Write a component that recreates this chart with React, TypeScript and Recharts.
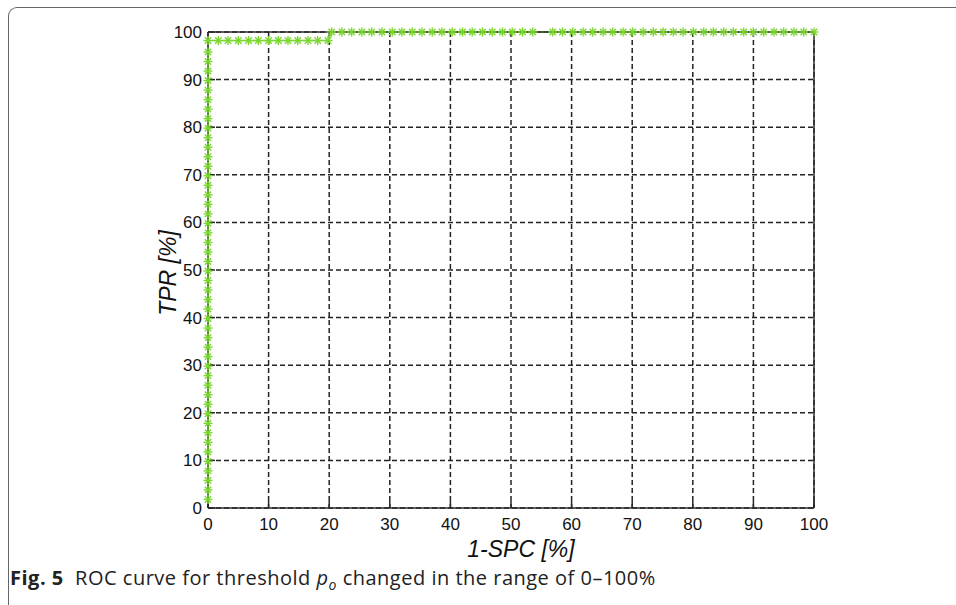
import React from "react"
import { ComposedChart, Line, XAxis, YAxis, CartesianGrid, Label } from "recharts"

// ROC points (FPR = 1-SPC, TPR, both in %)
const leftEdgeFpr = 0
const leftEdgeTpr = [
  1.8, 3.8, 5.8, 7.8, 9.8, 11.8, 13.8, 15.8, 17.8, 19.8, 21.8, 23.8, 25.8, 27.8, 29.8, 31.8,
  33.8, 35.8, 37.8, 39.8, 41.8, 43.8, 45.8, 47.8, 49.8, 51.8, 53.8, 55.8, 57.8, 59.8, 61.8,
  63.8, 65.8, 67.8, 69.8, 71.8, 73.8, 75.8, 77.8, 79.8, 81.8, 83.8, 85.8, 87.8, 89.8, 91.8,
  93.8, 95.8,
]
const lowerRowTpr = 98.2
const lowerRowFpr = [0, 1.7, 3.3, 5.0, 6.7, 8.3, 10.0, 11.6, 13.2, 14.8, 16.5, 18.1, 19.8]
const upperRowTpr = 100
const upperRowFpr = [
  20.4, 22.1, 23.7, 25.4, 27.0, 28.7, 30.4, 32.0, 33.7, 35.3, 37.0, 38.6, 40.3, 42.0, 43.6,
  45.3, 46.9, 48.6, 50.2, 51.9, 53.6, 56.9, 58.5, 60.2, 61.9, 63.5, 65.2, 66.8, 68.5, 70.1,
  71.8, 73.5, 75.1, 76.8, 78.4, 80.1, 81.8, 83.4, 85.1, 86.7, 88.4, 90.0, 91.7, 93.4, 95.0,
  96.7, 98.3, 100,
]
const ticks = [0, 10, 20, 30, 40, 50, 60, 70, 80, 90, 100]

const data = [
  ...leftEdgeTpr.map((tpr) => ({ fpr: leftEdgeFpr, tpr })),
  ...lowerRowFpr.map((fpr) => ({ fpr, tpr: lowerRowTpr })),
  ...upperRowFpr.map((fpr) => ({ fpr, tpr: upperRowTpr })),
]

const green = "#7BD631"
const axisColor = "#2a2a2a"
const font = "'Liberation Sans', Arial, sans-serif"

// matlab style '*' marker
function Star(props: any) {
  const { cx, cy } = props
  if (cx == null || cy == null) return <g key={props.key} />
  const r = 4.5
  const d = 3.2
  return (
    <g key={props.key} stroke={green} strokeWidth={1.4}>
      <line x1={cx - r} y1={cy} x2={cx + r} y2={cy} />
      <line x1={cx} y1={cy - r} x2={cx} y2={cy + r} />
      <line x1={cx - d} y1={cy - d} x2={cx + d} y2={cy + d} />
      <line x1={cx - d} y1={cy + d} x2={cx + d} y2={cy - d} />
    </g>
  )
}

function YTitle(props: any) {
  const vb = props.viewBox || {}
  const x = vb.x + 28
  const y = vb.y + vb.height / 2 + 3
  return (
    <text
      x={x}
      y={y}
      transform={`rotate(-90, ${x}, ${y})`}
      textAnchor="middle"
      fill="#111"
      fontSize={23}
      fontStyle="italic"
      fontFamily={font}
    >
      TPR [%]
    </text>
  )
}

export default function App() {
  const tickStyle = { fill: "#111", fontSize: 17, fontFamily: font }
  return (
    <div style={{ position: "absolute", left: 0, top: 0, width: 956, height: 605, background: "#fff" }}>
      <div
        style={{
          position: "absolute",
          left: 8,
          top: 7,
          width: 960,
          height: 620,
          borderTop: "1.5px solid #666",
          borderLeft: "1.5px solid #666",
          borderTopLeftRadius: 9,
        }}
      />
      <ComposedChart
        width={956}
        height={605}
        data={data}
        margin={{ top: 31, right: 141, bottom: 37, left: 148 }}
        style={{ position: "absolute", left: 0, top: 0 }}
      >
        <CartesianGrid stroke="#222" strokeWidth={1.5} strokeDasharray="5 3" />
        <XAxis
          dataKey="fpr"
          type="number"
          domain={[0, 100]}
          ticks={ticks}
          height={60}
          stroke={axisColor}
          strokeWidth={1.5}
          tickSize={-7}
          tickMargin={17}
          tick={tickStyle}
        >
          <Label
            value="1-SPC [%]"
            position="insideBottom"
            offset={11}
            dx={10}
            style={{ fill: "#111", fontSize: 23, fontStyle: "italic", fontFamily: font }}
          />
        </XAxis>
        <XAxis
          xAxisId="top"
          orientation="top"
          type="number"
          domain={[0, 100]}
          ticks={ticks}
          height={1}
          stroke={axisColor}
          strokeWidth={1.5}
          tickSize={-7}
          tick={false}
        />
        <YAxis
          dataKey="tpr"
          type="number"
          domain={[0, 100]}
          ticks={ticks}
          width={60}
          stroke={axisColor}
          strokeWidth={1.5}
          tickSize={-7}
          tickMargin={13}
          tick={tickStyle}
        >
          <Label content={YTitle} />
        </YAxis>
        <YAxis
          yAxisId="right"
          orientation="right"
          type="number"
          domain={[0, 100]}
          ticks={ticks}
          width={1}
          stroke={axisColor}
          strokeWidth={1.5}
          tickSize={-7}
          tick={false}
        />
        <Line
          dataKey="tpr"
          type="linear"
          stroke={green}
          strokeWidth={1.5}
          dot={Star}
          activeDot={false}
          isAnimationActive={false}
        />
      </ComposedChart>
      <div
        style={{
          position: "absolute",
          left: 10,
          top: 564,
          fontFamily: "'Open Sans', 'Noto Sans', sans-serif",
          fontSize: 20,
          letterSpacing: 0.5,
          color: "#222",
          whiteSpace: "nowrap",
        }}
      >
        <b>Fig. 5</b>&nbsp; ROC curve for threshold <i>p</i>
        <sub style={{ fontStyle: "italic", fontSize: 14 }}>o</sub> changed in the range of 0–100%
      </div>
    </div>
  )
}
